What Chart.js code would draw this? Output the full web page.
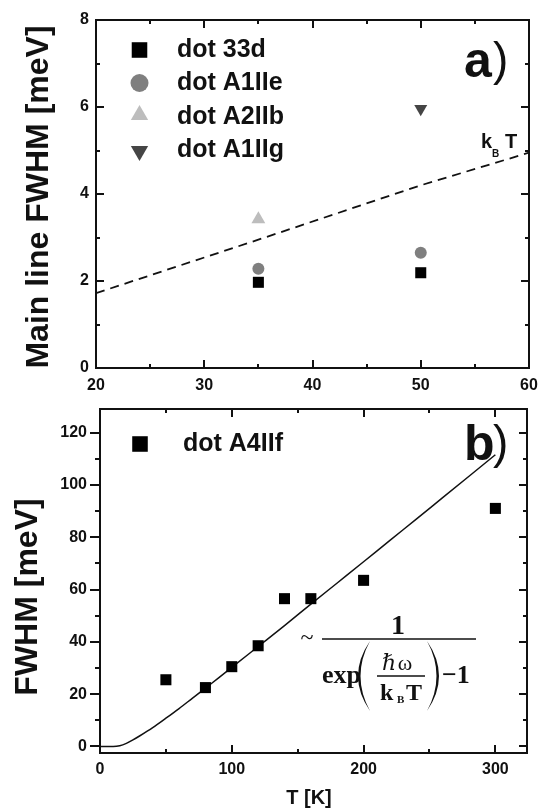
<!DOCTYPE html>
<html>
<head>
<meta charset="utf-8">
<title>Main line FWHM vs temperature</title>
<script src="https://cdn.jsdelivr.net/npm/chart.js@4.4.1/dist/chart.umd.min.js"></script>
<style>
    html, body { margin: 0; padding: 0; background: #fff; }
    #wrap { position: relative; width: 546px; height: 812px; }
    #chart-a { position: absolute; left: 0; top: 0; }
    #chart-b { position: absolute; left: 0; top: 400px; }
</style>
</head>
<body>
<div id="wrap">
    <canvas id="chart-a" width="546" height="400"></canvas>
    <canvas id="chart-b" width="546" height="412"></canvas>
</div>
<script>
// panel a) - main line FWHM [meV] vs T [K]
const tempA = [35, 50];
const dot33d = [1.97, 2.19];
const dotA1IIe = [2.28, 2.65];
const tempA2IIb = [35];
const dotA2IIb = [3.42];
const tempA1IIg = [50];
const dotA1IIg = [5.96];
const kTtemp = [20, 35, 50, 60];
const kTvalue = [1.72, 2.95, 4.2, 4.95];
const xTicksA = [20, 30, 40, 50, 60];
const yTicksA = [0, 2, 4, 6, 8];

// panel b) - FWHM [meV] vs T [K], dot A4IIf + Bose-type fit
const tempB = [50, 80, 100, 120, 140, 160, 200, 300];
const dotA4IIf = [25.5, 22.5, 30.5, 38.5, 56.5, 56.5, 63.5, 91];
const fitTemp = [0, 10, 15, 20, 25, 30, 40, 50, 60, 70, 80, 90, 100, 120, 140, 160, 180, 200, 220, 240, 260, 280, 300];
const fitValue = [0, 0, 0.3, 1.2, 2.5, 4, 7.2, 10.8, 14.5, 18.4, 22.3, 26.2, 30.2, 38.2, 46.2, 54.4, 62.5, 70.6, 78.8, 86.9, 95.1, 103.3, 111.5];
const xTicksB = [0, 100, 200, 300];
const yTicksB = [0, 20, 40, 60, 80, 100, 120];

function pts(xs, ys) {
    return xs.map((x, i) => ({x: x, y: ys[i]}));
}

function mids(v) {
    const out = [];
    for (let i = 0; i < v.length - 1; i++) out.push((v[i] + v[i + 1]) / 2);
    return out;
}

const SANS = '"Liberation Sans", Arial, sans-serif';
const SERIF = '"Liberation Serif", "DejaVu Serif", serif';
const INK = '#111111';
const tickFont = { family: SANS, weight: 'bold', size: 16 };

// one axis of the frame: position, tick values, tick length (negative = inward)
// edge: the frame edge is drawn as a grid line at the axis min/max
function axis(pos, min, max, values, len, opts) {
    const horiz = pos === 'top' || pos === 'bottom';
    const o = opts || {};
    const vals = o.edges ? [min].concat(values.filter(v => v > min && v < max), [max]) : values;
    return {
        type: 'linear',
        display: true,
        position: pos,
        min: min,
        max: max,
        weight: o.weight || 0,
        afterBuildTicks: s => { s.ticks = vals.map(v => ({ value: v })); },
        afterFit: s => {
            if (horiz) s.height = o.size || 0; else s.width = o.size || 0;
            s.paddingTop = 0; s.paddingBottom = 0; s.paddingLeft = 0; s.paddingRight = 0;
        },
        grid: {
            display: true,
            drawOnChartArea: !!o.edges,
            drawTicks: true,
            tickLength: len,
            lineWidth: 2,
            color: c => (c.tick && (c.tick.value === min || c.tick.value === max)) ? INK : 'rgba(0,0,0,0)',
            tickWidth: 2,
            tickColor: c => (o.edges && c.tick && !values.includes(c.tick.value)) ? 'rgba(0,0,0,0)' : INK,
            z: 1
        },
        border: { display: !!o.border, width: 2, color: INK, z: 1 },
        ticks: o.labels ? {
            display: true,
            padding: o.padding,
            color: INK,
            font: tickFont,
            maxRotation: 0,
            autoSkip: false,
            callback: v => values.includes(v) ? String(v) : ''
        } : { display: false }
    };
}

function seg(ctx, x1, y1, x2, y2) {
    ctx.beginPath();
    ctx.moveTo(x1, y1);
    ctx.lineTo(x2, y2);
    ctx.stroke();
}

function drawMarker(ctx, style, rot, x, y, r, color) {
    ctx.fillStyle = color;
    ctx.beginPath();
    if (style === 'rect') {
        const s = r * Math.SQRT1_2;
        ctx.rect(x - s, y - s, 2 * s, 2 * s);
    } else if (style === 'circle') {
        ctx.arc(x, y, r, 0, Math.PI * 2);
    } else {
        const d = rot ? 1 : -1;
        ctx.moveTo(x, y + d * r);
        ctx.lineTo(x - r * 0.866, y - d * r * 0.5);
        ctx.lineTo(x + r * 0.866, y - d * r * 0.5);
        ctx.closePath();
    }
    ctx.fill();
}

// legend drawn inside the plot area
function drawLegend(chart, opts) {
    const ctx = chart.ctx;
    ctx.save();
    ctx.font = 'bold 25px ' + SANS;
    ctx.textBaseline = 'middle';
    ctx.textAlign = 'left';
    let row = 0;
    chart.data.datasets.forEach(ds => {
        if (ds.noLegend) return;
        const y = opts.rows[row];
        const shift = ds.pointStyle === 'triangle' ? (ds.pointRotation ? 1 : -2) : 0;
        drawMarker(ctx, ds.pointStyle, ds.pointRotation, opts.markerX, y + shift, opts.sizes[row], ds.backgroundColor);
        ctx.fillStyle = INK;
        ctx.fillText(ds.label, opts.textX, y);
        row++;
    });
    ctx.restore();
}

function drawTitles(chart, opts) {
    const ctx = chart.ctx;
    ctx.save();
    ctx.fillStyle = INK;
    ctx.textAlign = 'center';
    ctx.textBaseline = 'middle';
    if (opts.y) {
        ctx.save();
        ctx.font = 'bold 32px ' + SANS;
        ctx.translate(opts.y.x, opts.y.y);
        ctx.rotate(-Math.PI / 2);
        ctx.fillText(opts.y.text, 0, 0);
        ctx.restore();
    }
    if (opts.x) {
        ctx.font = 'bold 20px ' + SANS;
        ctx.fillText(opts.x.text, opts.x.x, opts.x.y);
    }
    ctx.restore();
}

function paren(ctx, x, y1, y2, dir) {
    const ym = (y1 + y2) / 2;
    ctx.beginPath();
    ctx.moveTo(x, y1);
    ctx.quadraticCurveTo(x + dir * 24, ym, x, y2);
    ctx.quadraticCurveTo(x + dir * 19, ym, x, y1);
    ctx.fill();
}

const decorA = {
    id: 'decorA',
    afterDraw(chart, args, opts) {
        drawLegend(chart, opts.legend);
        drawTitles(chart, opts.titles);
        const ctx = chart.ctx;
        ctx.save();
        ctx.fillStyle = INK;
        ctx.textBaseline = 'alphabetic';
        ctx.font = 'bold 50px ' + SANS;
        ctx.fillText('a', 464, 77);
        ctx.font = '46px ' + SANS;
        ctx.fillText(')', 493, 75);
        ctx.font = 'bold 20px ' + SANS;
        ctx.fillText('k', 481, 148);
        ctx.font = 'bold 10px ' + SANS;
        ctx.fillText('B', 492, 157);
        ctx.font = 'bold 20px ' + SANS;
        ctx.fillText('T', 505, 148);
        ctx.restore();
    }
};

const decorB = {
    id: 'decorB',
    afterDraw(chart, args, opts) {
        drawLegend(chart, opts.legend);
        drawTitles(chart, opts.titles);
        const ctx = chart.ctx;
        ctx.save();
        ctx.fillStyle = INK;
        ctx.strokeStyle = INK;
        ctx.textBaseline = 'alphabetic';
        ctx.font = 'bold 50px ' + SANS;
        ctx.fillText('b', 464, 60);
        ctx.font = '46px ' + SANS;
        ctx.fillText(')', 493, 58);
        // ~ 1 / (exp(hw / kB T) - 1)
        ctx.textAlign = 'center';
        ctx.font = '24px ' + SERIF;
        ctx.fillText('~', 307, 245);
        ctx.font = 'bold 28px ' + SERIF;
        ctx.fillText('1', 398, 234);
        ctx.lineWidth = 1.3;
        seg(ctx, 322, 239, 476, 239);
        ctx.font = 'italic 22px ' + SERIF;
        ctx.fillText('\u210F', 389, 270);
        ctx.font = '22px ' + SERIF;
        ctx.fillText('\u03C9', 405, 270);
        seg(ctx, 377, 276, 425, 276);
        ctx.textAlign = 'left';
        ctx.font = 'bold 26px ' + SERIF;
        ctx.fillText('exp', 322, 283);
        ctx.fillText('\u22121', 442, 283);
        ctx.font = 'bold 24px ' + SERIF;
        ctx.fillText('k', 380, 300);
        ctx.fillText('T', 406, 300);
        ctx.font = 'bold 11px ' + SERIF;
        ctx.fillText('B', 397, 303);
        paren(ctx, 370, 241, 311, -1);
        paren(ctx, 427, 241, 311, 1);
        ctx.restore();
    }
};

const ctxA = document.getElementById('chart-a').getContext('2d');
const chartA = new Chart(ctxA, {
    type: 'scatter',
    data: {
        datasets: [{
            label: 'dot 33d',
            data: pts(tempA, dot33d),
            pointStyle: 'rect',
            pointRadius: 7.8,
            backgroundColor: '#000000',
            pointBorderWidth: 0
        }, {
            label: 'dot A1IIe',
            data: pts(tempA, dotA1IIe),
            pointStyle: 'circle',
            pointRadius: 6,
            backgroundColor: '#7f7f7f',
            pointBorderWidth: 0
        }, {
            label: 'dot A2IIb',
            data: pts(tempA2IIb, dotA2IIb),
            pointStyle: 'triangle',
            pointRadius: 8,
            backgroundColor: '#bdbdbd',
            pointBorderWidth: 0
        }, {
            label: 'dot A1IIg',
            data: pts(tempA1IIg, dotA1IIg),
            pointStyle: 'triangle',
            pointRotation: 180,
            pointRadius: 7.5,
            backgroundColor: '#454545',
            pointBorderWidth: 0
        }, {
            label: 'kBT',
            noLegend: true,
            data: pts(kTtemp, kTvalue),
            showLine: true,
            pointRadius: 0,
            borderColor: INK,
            borderWidth: 1.8,
            borderDash: [9, 6]
        }]
    },
    options: {
        responsive: false,
        animation: false,
        events: [],
        devicePixelRatio: 1,
        layout: { padding: { left: 0, right: 17, top: 20, bottom: 0 } },
        scales: {
            x: axis('bottom', 20, 60, xTicksA, -8, { size: 32, border: true, labels: true, padding: 16, edges: true }),
            xMinor: axis('bottom', 20, 60, mids(xTicksA), -4, { weight: -1 }),
            xTop: axis('top', 20, 60, xTicksA, -8, { border: true }),
            xTopMinor: axis('top', 20, 60, mids(xTicksA), -4, { weight: -1 }),
            y: axis('left', 0, 8, yTicksA, -8, { size: 96, border: true, labels: true, padding: 15, edges: true }),
            yMinor: axis('left', 0, 8, mids(yTicksA), -4, { weight: -1 }),
            yRight: axis('right', 0, 8, yTicksA, -8, { border: true }),
            yRightMinor: axis('right', 0, 8, mids(yTicksA), -4, { weight: -1 })
        },
        plugins: {
            legend: { display: false },
            tooltip: { enabled: false },
            decorA: {
                legend: { markerX: 139.5, textX: 177, rows: [50, 83, 117, 150], sizes: [11, 9, 10, 10] },
                titles: { y: { text: 'Main line FWHM [meV]', x: 39, y: 197 } }
            }
        }
    },
    plugins: [decorA]
});

const ctxB = document.getElementById('chart-b').getContext('2d');
const chartB = new Chart(ctxB, {
    type: 'scatter',
    data: {
        datasets: [{
            label: 'dot A4IIf',
            data: pts(tempB, dotA4IIf),
            pointStyle: 'rect',
            pointRadius: 7.8,
            backgroundColor: '#000000',
            pointBorderWidth: 0
        }, {
            label: 'fit',
            noLegend: true,
            data: pts(fitTemp, fitValue),
            showLine: true,
            pointRadius: 0,
            borderColor: INK,
            borderWidth: 1.5,
            cubicInterpolationMode: 'monotone'
        }]
    },
    options: {
        responsive: false,
        animation: false,
        events: [],
        devicePixelRatio: 1,
        layout: { padding: { left: 0, right: 19, top: 9, bottom: 0 } },
        scales: {
            x: axis('bottom', 0, 324, xTicksB, -8, { size: 59, border: true, labels: true, padding: 15, edges: true }),
            xMinor: axis('bottom', 0, 324, mids(xTicksB), -4, { weight: -1 }),
            xTop: axis('top', 0, 324, xTicksB, -8, { border: true }),
            xTopMinor: axis('top', 0, 324, mids(xTicksB), -4, { weight: -1 }),
            y: axis('left', -2.5, 129, yTicksB, 10, { size: 100, border: true, labels: true, padding: 3, edges: true }),
            yMinor: axis('left', -2.5, 129, mids(yTicksB), 5, { weight: -1 }),
            yRight: axis('right', -2.5, 129, yTicksB, -8, { border: true }),
            yRightMinor: axis('right', -2.5, 129, mids(yTicksB), -4, { weight: -1 })
        },
        plugins: {
            legend: { display: false },
            tooltip: { enabled: false },
            decorB: {
                legend: { markerX: 140, textX: 183, rows: [44], sizes: [11] },
                titles: {
                    y: { text: 'FWHM [meV]', x: 28.5, y: 197 },
                    x: { text: 'T [K]', x: 309, y: 398 }
                }
            }
        }
    },
    plugins: [decorB]
});
</script>
</body>
</html>
